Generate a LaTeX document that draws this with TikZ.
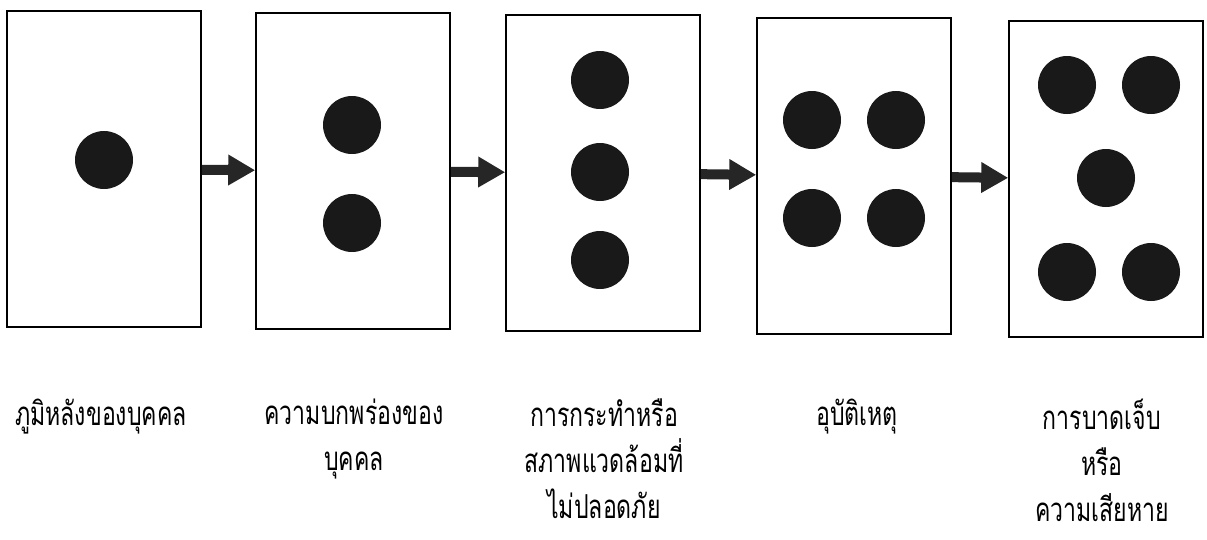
\documentclass[tikz,border=0pt]{standalone}
\usepackage{fontspec}
\newfontfamily\thaifont[Script=Thai,FakeStretch=0.7]{Loma}
\usetikzlibrary{arrows.meta}

\begin{document}
\begin{tikzpicture}[x=1pt,y=-1pt,
  card/.style={draw,line width=1.6pt,minimum width=194pt,minimum height=316pt,inner sep=0pt},
  dot/.style={fill=black!90},
  push/.style={line width=10pt,draw=black!85,-{Triangle[length=27pt,width=29pt]}},
  caption/.style={anchor=north,align=center,inner sep=0pt,font=\thaifont\fontsize{33}{46}\selectfont}]
  \useasboundingbox (0,0) rectangle (1207,539);
  % five boxes (scan is a bit tilted)
  \node[card] (b1) at (104,169) {};
  \node[card] (b2) at (353,171) {};
  \node[card] (b3) at (603,173) {};
  \node[card] (b4) at (854,176) {};
  \node[card] (b5) at (1106,179) {};
  % dots
  \fill[dot] (104,160) circle (29pt);
  \foreach \y in {125,223} \fill[dot] (352,\y) circle (29pt);
  \foreach \y in {80,172,260} \fill[dot] (600,\y) circle (29pt);
  \foreach \x in {812,896} \foreach \y in {120,218} \fill[dot] (\x,\y) circle (29pt);
  \foreach \x/\y in {1067/85,1151/85,1106/178,1067/272,1151/272} \fill[dot] (\x,\y) circle (29pt);
  % arrows
  \draw[push] (b1) -- (b2);
  \draw[push] (b2) -- (b3);
  \draw[push] (b3) -- (b4);
  \draw[push] (b4) -- (b5);
  % labels
  \node[caption] (l1) at (101,399) {ภูมิหลังของบุคคล};
  \node[caption] (l2) at (354,399) {ความบกพร่องของ\\บุคคล};
  \node[caption] (l3) at (604,399) {การกระทำหรือ\\สภาพแวดล้อมที่\\ไม่ปลอดภัย};
  \node[caption] (l4) at (857,399) {อุบัติเหตุ};
  \node[caption] (l5) at (1102,399) {การบาดเจ็บ\\หรือ\\ความเสียหาย};
\end{tikzpicture}
\end{document}
